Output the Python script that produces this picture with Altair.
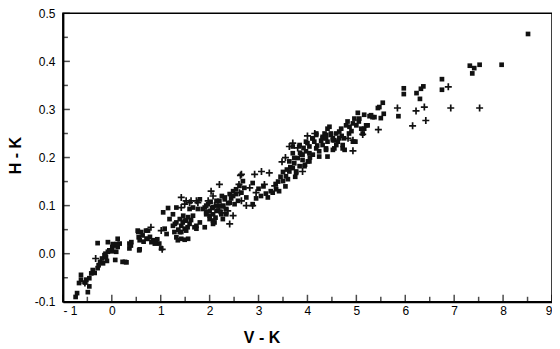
import altair as alt
import pandas as pd

# filled squares
sq_x = [-0.74,-0.71,-0.49,-0.67,-0.63,-0.63,-0.52,-0.46,-0.46,-0.39,-0.42,-0.29,-0.27,-0.24,-0.20,-0.15,-0.12,-0.08,-0.05,0.01,0.05,0.12,0.16,0.09,-0.29,-0.08,0.12,0.07,0.22,0.27,0.36,0.36,0.53,0.56,0.55,0.63,0.70,0.73,0.84,0.90,0.97,1.01,
        -0.13,-0.18,0.00,-0.10,0.02,0.10,-0.35,-0.55,0.30,0.40,0.39,0.54,0.57,0.57,0.74,0.71,0.81,0.88,0.65,0.78,0.93,0.60,
        1.15,1.25,1.18,1.08,1.12,1.25,1.32,1.39,1.46,1.52,1.49,1.39,1.32,1.42,1.56,1.59,1.66,1.73,1.73,1.76,1.80,1.32,
        1.05,1.29,1.42,1.49,1.56,1.59,1.52,1.42,1.35,1.49,1.69,1.66,1.90,1.97,2.00,1.93,2.07,2.14,2.20,2.31,2.41,2.48,2.54,2.65,2.71,2.10,2.00,2.27,2.34,2.51,2.58,2.75,
        1.86,1.93,1.93,2.00,2.07,2.07,2.14,2.20,2.24,2.31,2.34,2.41,2.48,2.54,2.61,2.68,2.14,1.80,1.90,
        1.36,1.45,1.55,1.28,1.62,2.05,2.12,2.18,2.28,2.38,2.02,2.25,2.44,
        2.88,2.88,3.19,3.29,3.36,3.50,3.56,3.63,3.70,3.73,3.80,3.87,3.97,4.04,4.14,4.18,4.31,4.41,4.48,4.55,4.59,4.38,4.24,4.11,4.01,3.84,3.77,3.63,3.70,
        3.40,3.45,3.55,3.60,3.65,3.75,3.90,3.95,3.50,3.35,3.25,3.15,3.05,3.00,2.95,3.10,3.42,3.58,3.85,4.05,4.20,4.28,4.10,4.35,3.92,4.00,
        5.54,5.44,5.56,5.50,5.37,5.27,5.16,5.03,5.06,4.96,4.93,5.00,4.86,4.79,4.69,4.65,4.59,4.45,4.48,4.38,4.31,4.41,4.52,4.62,4.72,4.55,4.38,4.76,4.93,4.98,5.13,5.16,5.23,5.86,5.33,
        4.70,4.85,4.90,4.75,4.65,5.05,4.82,
        5.47,5.30,4.18,4.11,3.97,3.84,3.70,3.73,3.90,4.04,4.18,4.31,4.52,4.72,4.52,4.38,5.10,5.20,3.94,3.77,4.04,4.24,4.41,
        8.51,7.97,7.32,7.41,7.52,7.37,6.75,6.75,6.37,6.32,6.23,6.30,5.97,5.97]
sq_y = [-0.090,-0.082,-0.080,-0.061,-0.054,-0.044,-0.054,-0.051,-0.068,-0.034,-0.041,-0.030,-0.024,-0.017,-0.010,-0.003,-0.007,0.004,0.007,0.014,0.017,0.014,0.021,0.004,0.022,0.024,0.031,-0.013,-0.017,-0.017,0.021,0.011,0.048,0.007,0.034,0.038,0.048,0.031,0.028,0.024,0.021,0.011,
        0.000,-0.020,0.005,-0.015,0.020,0.020,-0.040,-0.060,-0.018,0.024,0.017,0.045,0.028,0.009,0.048,0.031,0.024,0.021,0.025,0.035,0.030,0.045,
        0.095,0.082,0.072,0.052,0.041,0.058,0.065,0.072,0.079,0.069,0.052,0.045,0.034,0.031,0.031,0.093,0.079,0.058,0.052,0.093,0.113,0.096,
        0.086,0.062,0.058,0.069,0.076,0.062,0.048,0.045,0.028,0.029,0.055,0.096,0.096,0.103,0.089,0.082,0.082,0.100,0.110,0.117,0.124,0.130,0.124,0.127,0.137,0.065,0.072,0.072,0.082,0.103,0.110,0.117,
        0.093,0.100,0.086,0.079,0.069,0.062,0.089,0.100,0.082,0.113,0.093,0.106,0.120,0.134,0.141,0.151,0.110,0.065,0.055,
        0.050,0.065,0.055,0.045,0.070,0.095,0.075,0.090,0.100,0.105,0.108,0.120,0.115,
        0.103,0.147,0.117,0.127,0.134,0.151,0.161,0.171,0.178,0.188,0.199,0.206,0.213,0.223,0.233,0.247,0.243,0.260,0.247,0.236,0.226,0.219,0.213,0.206,0.192,0.182,0.168,0.192,0.209,
        0.150,0.160,0.140,0.155,0.180,0.160,0.195,0.185,0.170,0.145,0.130,0.125,0.120,0.135,0.115,0.140,0.130,0.175,0.210,0.200,0.225,0.235,0.240,0.250,0.220,0.230,
        0.314,0.303,0.291,0.282,0.284,0.286,0.289,0.293,0.281,0.281,0.271,0.267,0.264,0.267,0.260,0.254,0.250,0.264,0.250,0.247,0.240,0.233,0.236,0.233,0.226,0.219,0.216,0.216,0.233,0.233,0.250,0.260,0.267,0.286,0.284,
        0.245,0.250,0.255,0.240,0.240,0.275,0.275,
        0.305,0.288,0.250,0.240,0.233,0.226,0.223,0.199,0.206,0.209,0.219,0.226,0.216,0.219,0.240,0.240,0.260,0.267,0.182,0.171,0.192,0.202,0.202,
        0.457,0.393,0.391,0.386,0.393,0.375,0.363,0.341,0.348,0.343,0.334,0.322,0.344,0.332]

# plus signs
pl_x = [-0.33,-0.55,0.80,1.01,1.03,
        1.42,1.52,1.62,1.73,1.42,1.49,1.59,1.76,
        2.03,2.07,2.20,2.41,2.48,2.75,2.88,2.61,2.63,2.60,2.20,2.37,1.97,2.10,2.30,2.25,
        3.63,3.48,2.65,2.92,3.06,3.22,2.82,2.95,2.65,3.12,3.33,3.90,
        3.70,3.80,4.00,4.15,3.55,
        5.84,5.45,4.93,5.13,4.83,4.93,
        6.88,6.93,7.52,6.39,6.22,6.42,6.15]
pl_y = [-0.010,-0.061,0.055,0.048,0.009,
        0.117,0.110,0.110,0.110,0.096,0.103,0.106,0.106,
        0.130,0.120,0.144,0.062,0.079,0.100,0.100,0.127,0.163,0.144,0.089,0.089,0.110,0.100,0.095,0.085,
        0.223,0.191,0.165,0.165,0.171,0.168,0.137,0.127,0.110,0.144,0.141,0.171,
        0.230,0.220,0.245,0.250,0.200,
        0.303,0.258,0.214,0.248,0.240,0.236,
        0.347,0.303,0.303,0.305,0.297,0.277,0.266]

x_major = list(range(-1, 10))
x_minor = [v + 0.5 for v in range(-1, 9)]
y_major = [-0.1, 0.0, 0.1, 0.2, 0.3, 0.4, 0.5]
y_minor = [-0.05, 0.05, 0.15, 0.25, 0.35, 0.45]

W, H = 490, 289
FONT = "Liberation Sans"

sq = pd.DataFrame({"x": sq_x, "y": sq_y})
pl = pd.DataFrame({"x": pl_x, "y": pl_y})

xs = alt.Scale(domain=[-1, 9], nice=False, zero=False)
ys = alt.Scale(domain=[-0.1, 0.5], nice=False, zero=False)

xaxis = alt.Axis(values=x_major, ticks=False, grid=False, domainWidth=2, domainColor="black",
                 labelFont=FONT, labelFontSize=12, labelColor="black", labelPadding=4,
                 labelExpr="datum.value < 0 ? '- ' + format(-datum.value, 'd') : format(datum.value, 'd')",
                 title="V - K", titleFont=FONT, titleFontSize=16, titleFontWeight="bold",
                 titleColor="black", titleX=199, titleY=36, titleAnchor="middle", titleAlign="center",
                 titleBaseline="middle")
yaxis = alt.Axis(values=y_major, ticks=False, grid=False, domainWidth=2, domainColor="black",
                 labelFont=FONT, labelFontSize=12, labelColor="black", labelPadding=8,
                 labelExpr="datum.value < 0 ? '-' + format(-datum.value, '.1f') : format(datum.value, '.1f')",
                 title="H - K", titleFont=FONT, titleFontSize=16, titleFontWeight="bold",
                 titleColor="black", titleX=-47, titleY=142, titleAngle=270, titleAlign="center",
                 titleBaseline="middle")

squares = alt.Chart(sq).mark_square(size=22, color="#111111", opacity=1).encode(
    x=alt.X("x:Q", scale=xs, axis=xaxis),
    y=alt.Y("y:Q", scale=ys, axis=yaxis),
)
pluses = alt.Chart(pl).mark_point(shape="M-1,0L1,0M0,-1L0,1", size=49, filled=False,
                                  color="#111111", strokeWidth=1.7, opacity=1).encode(
    x=alt.X("x:Q", scale=xs), y=alt.Y("y:Q", scale=ys))

xmaj = alt.Chart(pd.DataFrame({"v": x_major})).mark_tick(orient="vertical", size=7, thickness=1.5, color="black").encode(
    x=alt.X("v:Q", scale=xs), y=alt.value(H - 3.5))
xmin = alt.Chart(pd.DataFrame({"v": x_minor})).mark_tick(orient="vertical", size=5, thickness=1.5, color="black").encode(
    x=alt.X("v:Q", scale=xs), y=alt.value(H - 2.5))
ymaj = alt.Chart(pd.DataFrame({"v": y_major})).mark_tick(orient="horizontal", size=7, thickness=1.5, color="black").encode(
    y=alt.Y("v:Q", scale=ys), x=alt.value(3.5))
ymin = alt.Chart(pd.DataFrame({"v": y_minor})).mark_tick(orient="horizontal", size=5, thickness=1.5, color="black").encode(
    y=alt.Y("v:Q", scale=ys), x=alt.value(2.5))

chart = alt.layer(squares, pluses, xmaj, xmin, ymaj, ymin).properties(
    width=W, height=H,
    autosize=alt.AutoSizeParams(type="none"),
    padding={"left": 55, "top": 5, "right": 0, "bottom": 45},
    background="white",
).configure_view(stroke="black", strokeWidth=1.5)

chart.save("out.html", embed_options={"renderer": "svg", "actions": False})
